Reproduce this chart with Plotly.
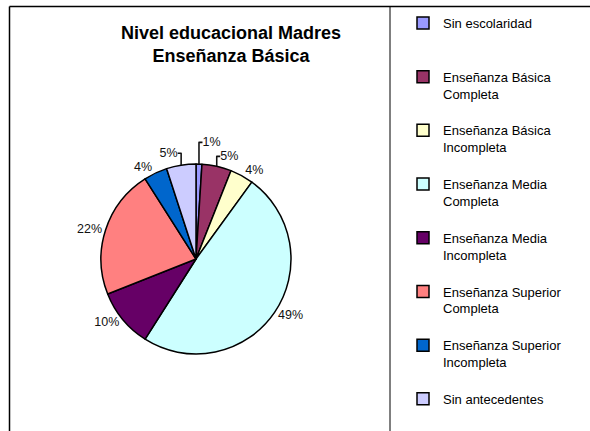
import plotly.graph_objects as go

# Nivel educacional Madres - Enseñanza Básica
categorias = [
    "Sin escolaridad",
    "Enseñanza Básica<br>Completa",
    "Enseñanza Básica<br>Incompleta",
    "Enseñanza Media<br>Completa",
    "Enseñanza Media<br>Incompleta",
    "Enseñanza Superior<br>Completa",
    "Enseñanza Superior<br>Incompleta",
    "Sin antecedentes",
]
porcentajes = [1, 5, 4, 49, 10, 22, 4, 5]
colores = ["#9999FF", "#993366", "#FFFFCC", "#CCFFFF",
           "#660066", "#FF8080", "#0066CC", "#CCCCFF"]

W, H = 590, 431

# pad legend entries to three lines so they are evenly spaced (not the last one)
etiquetas = []
for i, c in enumerate(categorias):
    n = c.count("<br>") + 1
    if i < len(categorias) - 1:
        etiquetas.append(c + "<br> " * (3 - n))
    else:
        etiquetas.append(c)

fig = go.Figure(go.Pie(
    labels=etiquetas,
    values=porcentajes,
    sort=False,
    direction="clockwise",
    rotation=0,
    marker=dict(colors=colores, line=dict(color="black", width=1.5)),
    texttemplate="%{percent:.0%}",
    textposition="outside",
    textfont=dict(family="Arial, Liberation Sans", size=12.5, color="#111"),
    domain=dict(x=[101 / W, 291 / W], y=[(H - 354) / H, (H - 164) / H]),
    hoverinfo="label+percent",
))

fig.update_layout(
    width=W, height=H,
    margin=dict(l=0, r=0, t=0, b=0),
    paper_bgcolor="white",
    font=dict(family="Arial, Liberation Sans", color="black"),
    title=dict(
        text="Nivel educacional Madres<br>Enseñanza Básica",
        x=231 / W, xanchor="center",
        y=1 - 39 / H, yanchor="top",
        font=dict(size=18, weight="bold"),
    ),
    legend=dict(
        x=403 / W, xanchor="left",
        y=1 - 8 / H, yanchor="top",
        valign="top",
        font=dict(size=13),
        bgcolor="rgba(0,0,0,0)",
        itemclick=False,
    ),
    shapes=[
        dict(type="line", xref="paper", yref="paper", x0=9.5 / W, x1=1, y0=1 - 6.5 / H, y1=1 - 6.5 / H,
             line=dict(color="black", width=1.5)),
        dict(type="line", xref="paper", yref="paper", x0=9.5 / W, x1=9.5 / W, y0=0, y1=1 - 6.5 / H,
             line=dict(color="black", width=1.5)),
        dict(type="line", xref="paper", yref="paper", x0=390 / W, x1=390 / W, y0=0, y1=1 - 6.5 / H,
             line=dict(color="black", width=1)),
    ],
)

# page body has a default 8px margin; remove it so the figure sits at 0,0
fig.write_html("out.html", config={"displayModeBar": False},
               post_script="document.body.style.margin='0';")
